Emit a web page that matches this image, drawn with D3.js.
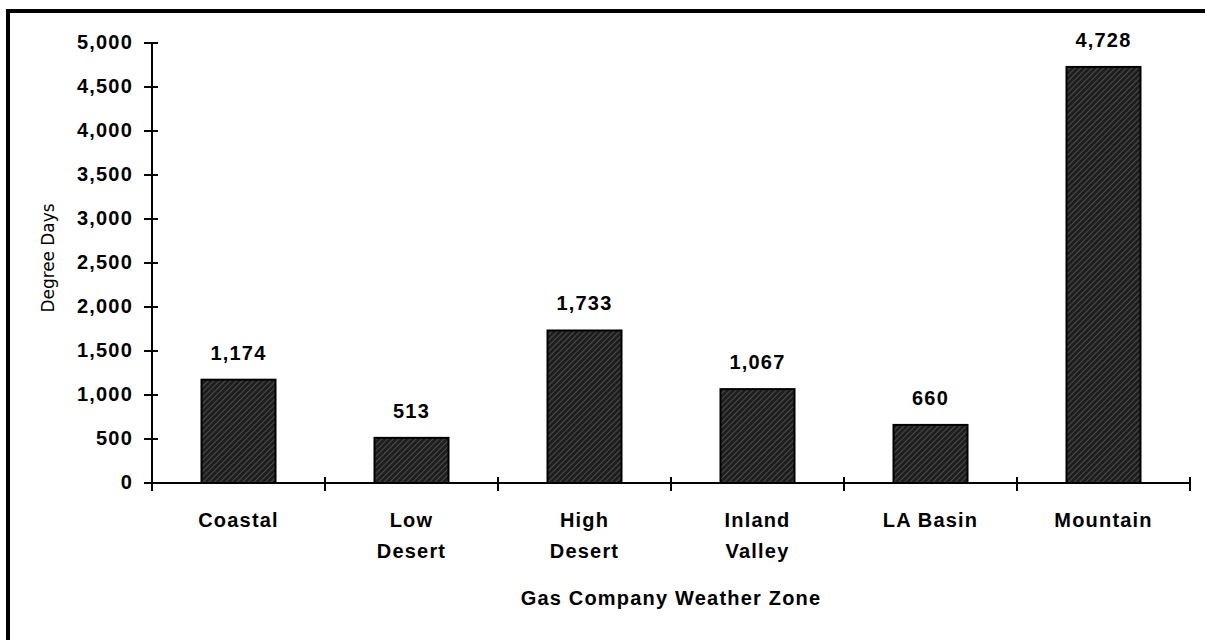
<!DOCTYPE html>
<html><head><meta charset="utf-8">
<script src="https://cdn.jsdelivr.net/npm/d3@7"></script>
<style>body{margin:0;background:#fff}svg{display:block}</style>
</head><body><svg id="c" width="1205" height="640"></svg>
<script>
const categories = [["Coastal"],["Low","Desert"],["High","Desert"],["Inland","Valley"],["LA Basin"],["Mountain"]];
const values = [1174, 513, 1733, 1067, 660, 4728];
const yTicks = [0,500,1000,1500,2000,2500,3000,3500,4000,4500,5000];
const yTitle = "Degree Days";
const xTitle = "Gas Company Weather Zone";

const svg = d3.select("#c");
const font = "'Liberation Sans', Arial, sans-serif";
const fs = 20, ls = "1.2px";
const defs = svg.append("defs");
const pat = defs.append("pattern").attr("id","hatch").attr("patternUnits","userSpaceOnUse")
  .attr("width",4).attr("height",4).attr("patternTransform","rotate(45)");
pat.append("rect").attr("width",4).attr("height",4).attr("fill","#1e1e1e");
pat.append("line").attr("x1",0).attr("y1",0).attr("x2",0).attr("y2",4).attr("stroke","#7a7a7a").attr("stroke-width",1);

// frame
svg.append("rect").attr("x",8).attr("y",11).attr("width",1205).attr("height",700)
  .attr("fill","none").attr("stroke","#000").attr("stroke-width",4);

const x = d3.scaleBand().domain(d3.range(categories.length)).range([152,1190]).paddingInner(0).paddingOuter(0);
const y = d3.scaleLinear().domain([0,5000]).range([483,43]);
const bw = 74;

// bars
svg.selectAll("rect.bar").data(values).join("rect").attr("class","bar")
  .attr("x",(d,i)=>x(i)+x.bandwidth()/2-bw/2).attr("width",bw)
  .attr("y",d=>y(d)).attr("height",d=>y(0)-y(d))
  .attr("fill","url(#hatch)").attr("stroke","#000").attr("stroke-width",2);

// value labels
svg.selectAll("text.val").data(values).join("text").attr("class","val")
  .attr("x",(d,i)=>x(i)+x.bandwidth()/2).attr("y",d=>y(d)-20)
  .attr("text-anchor","middle").attr("font-family",font).attr("font-weight","bold")
  .attr("font-size",fs).attr("letter-spacing",ls).text(d=>d3.format(",")(d));

// y axis
const ya = svg.append("g").attr("transform","translate(152,0)");
ya.append("line").attr("x1",0).attr("x2",0).attr("y1",y(5000)).attr("y2",y(0)).attr("stroke","#000").attr("stroke-width",2);
ya.selectAll("line.t").data(yTicks).join("line").attr("class","t")
  .attr("x1",-8).attr("x2",6).attr("y1",d=>y(d)).attr("y2",d=>y(d)).attr("stroke","#000").attr("stroke-width",2);
ya.selectAll("text").data(yTicks).join("text").attr("x",-19).attr("y",d=>y(d)+6)
  .attr("text-anchor","end").attr("font-family",font).attr("font-weight","bold").attr("font-size",fs).attr("letter-spacing",ls)
  .text(d=>d3.format(",")(d));

// x axis
const xa = svg.append("g");
xa.append("line").attr("x1",152).attr("x2",1190).attr("y1",y(0)).attr("y2",y(0)).attr("stroke","#000").attr("stroke-width",2);
const xt = d3.range(categories.length+1).map(i=> i<categories.length ? x(i) : 1190);
xa.selectAll("line.t").data(xt).join("line").attr("class","t")
  .attr("x1",d=>d).attr("x2",d=>d).attr("y1",y(0)-6).attr("y2",y(0)+8).attr("stroke","#000").attr("stroke-width",2);
categories.forEach((lines,i)=>{
  const t = xa.append("text").attr("text-anchor","middle").attr("font-family",font).attr("font-weight","bold").attr("font-size",fs).attr("letter-spacing",ls);
  lines.forEach((l,j)=>t.append("tspan").attr("x",x(i)+x.bandwidth()/2).attr("y",527+j*31).text(l));
});

svg.append("text").attr("x",671).attr("y",605).attr("text-anchor","middle").attr("font-family",font)
  .attr("font-weight","bold").attr("font-size",fs).attr("letter-spacing",ls).text(xTitle);
svg.append("text").attr("transform","translate(54,258) rotate(-90)").attr("text-anchor","middle")
  .attr("font-family","'Liberation Sans Narrow','DejaVu Sans Condensed',sans-serif").attr("font-size",18)
  .attr("textLength",109).attr("lengthAdjust","spacingAndGlyphs").text(yTitle);
</script></body></html>
